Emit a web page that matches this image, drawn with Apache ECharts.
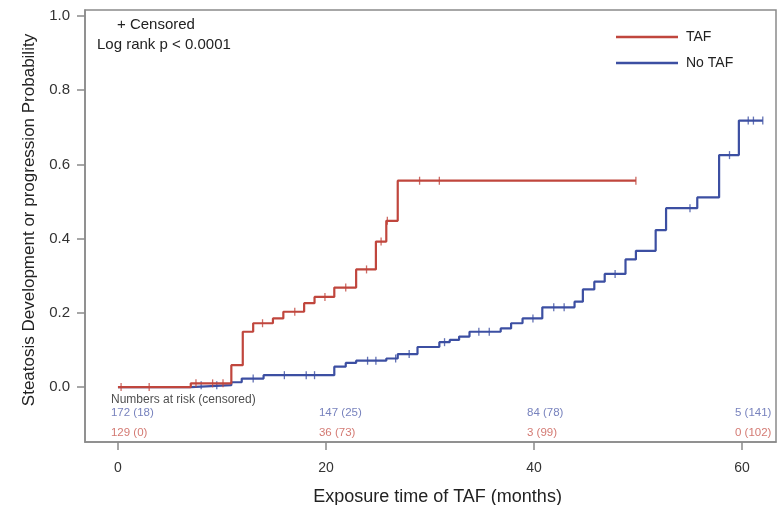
<!DOCTYPE html>
<html>
<head>
<meta charset="utf-8">
<script src="https://cdn.jsdelivr.net/npm/echarts@6/dist/echarts.min.js"></script>
<style>
  html, body { margin: 0; padding: 0; background: #fff; }
  #chart { width: 783px; height: 505px; }
</style>
</head>
<body>
<div id="chart"></div>
<script>
// step curves: time (months) where the curve jumps, and the value it takes there
var tafTimes = [0, 7, 10.9, 12, 13, 14.9, 15.9, 17.9, 18.9, 20.8, 22.9, 24.8, 25.8, 26.9, 49.8]
var tafProb = [0, 0.010, 0.059, 0.149, 0.172, 0.185, 0.203, 0.226, 0.243, 0.268, 0.317, 0.392, 0.448, 0.556, 0.556]
var tafCensored = [0.3, 3, 7.5, 9.1, 10.1, 13.9, 17, 19.9, 21.9, 23.9, 25.3, 25.9, 29, 30.9, 49.8]

var noTafTimes = [0, 7, 10.9, 11.9, 14, 20.8, 21.9, 22.9, 25.8, 26.9, 28.8, 30.9, 31.9, 32.8, 33.8, 36.8, 37.8, 38.9, 40.8, 43.9, 44.7, 45.8, 46.8, 48.8, 49.8, 51.7, 52.7, 55.7, 57.8, 59.7, 62]
var noTafProb = [0, 0.005, 0.013, 0.023, 0.032, 0.055, 0.065, 0.071, 0.077, 0.089, 0.108, 0.121, 0.127, 0.136, 0.149, 0.158, 0.172, 0.185, 0.215, 0.230, 0.263, 0.284, 0.305, 0.344, 0.367, 0.423, 0.482, 0.511, 0.625, 0.718, 0.718]
var noTafCensored = [8, 9.5, 13, 16, 18.1, 18.9, 24, 24.8, 26.7, 28, 31.4, 34.7, 35.7, 39.9, 41.9, 42.9, 47.8, 55, 58.8, 60.6, 61.1, 62]

var riskTimes = [0, 20, 40, 60]
var noTafRisk = ['172 (18)', '147 (25)', '84 (78)', '5 (141)']
var tafRisk = ['129 (0)', '36 (73)', '3 (99)', '0 (102)']

var xTicks = [0, 20, 40, 60]
var yTicks = [0, 0.2, 0.4, 0.6, 0.8, 1.0]

var red = '#c0463d'
var blue = '#3c4fa2'
var font = 'Liberation Sans, Arial, sans-serif'

function pairs(xs, ys) {
  return xs.map(function (x, i) { return [x, ys[i]] })
}

// value of a step curve at time t
function stepAt(times, probs, t) {
  var v = probs[0]
  for (var i = 0; i < times.length; i++) {
    if (times[i] <= t) v = probs[i]
  }
  return v
}

function censorPoints(cens, times, probs) {
  return cens.map(function (t) { return [t, stepAt(times, probs, t)] })
}

function riskLabels(texts, y, color) {
  return riskTimes.map(function (t, i) {
    return { value: [t, y], label: { formatter: texts[i], color: color } }
  })
}

var myChart = echarts.init(document.getElementById('chart'))

var option = {
  animation: false,
  textStyle: { fontFamily: font },
  grid: {
    left: 85,
    right: 7,
    top: 10,
    bottom: 63,
    outerBoundsMode: 'none',
    show: true,
    borderColor: '#8a8a8a',
    borderWidth: 1.5
  },
  legend: {
    orient: 'vertical',
    left: 611,
    top: 25,
    itemWidth: 62,
    itemHeight: 2.4,
    itemGap: 12,
    data: [{ name: 'TAF', icon: 'rect' }, { name: 'No TAF', icon: 'rect' }],
    textStyle: { fontSize: 14, color: '#222', padding: [0, 0, 0, 3] }
  },
  graphic: [
    { type: 'text', left: 117, top: 17, style: { text: '+ Censored', fontSize: 15, fill: '#222', fontFamily: font } },
    { type: 'text', left: 97, top: 37, style: { text: 'Log rank p < 0.0001', fontSize: 15, fill: '#222', fontFamily: font } }
  ],
  xAxis: {
    type: 'value',
    min: -3.17,
    max: 63.27,
    name: 'Exposure time of TAF (months)',
    nameLocation: 'middle',
    nameGap: 46,
    nameTextStyle: { fontSize: 18, color: '#222', padding: [0, 0, 0, 14] },
    axisLine: { show: true, onZero: false, lineStyle: { color: '#8a8a8a', width: 1.5 } },
    axisTick: { show: true, length: 8, customValues: xTicks, lineStyle: { color: '#8a8a8a', width: 1.5 } },
    axisLabel: { customValues: xTicks, fontSize: 14, color: '#333', margin: 19 },
    splitLine: { show: false }
  },
  yAxis: {
    type: 'value',
    min: -0.148,
    max: 1.016,
    name: 'Steatosis Development or progression Probability',
    nameLocation: 'middle',
    nameGap: 47,
    nameTextStyle: { fontSize: 17, color: '#222', padding: [0, 0, 0, 12] },
    axisLine: { show: true, onZero: false, lineStyle: { color: '#8a8a8a', width: 1.5 } },
    axisTick: { show: true, length: 8, customValues: yTicks, lineStyle: { color: '#8a8a8a', width: 1.5 } },
    axisLabel: {
      customValues: yTicks,
      fontSize: 15,
      color: '#333',
      margin: 15,
      formatter: function (v) { return v.toFixed(1) }
    },
    splitLine: { show: false }
  },
  series: [
    {
      name: 'No TAF',
      type: 'line',
      step: 'end',
      symbol: 'none',
      data: pairs(noTafTimes, noTafProb),
      lineStyle: { color: blue, width: 2.2 },
      itemStyle: { color: blue },
      z: 2
    },
    {
      name: 'TAF',
      type: 'line',
      step: 'end',
      symbol: 'none',
      data: pairs(tafTimes, tafProb),
      lineStyle: { color: red, width: 2.2 },
      itemStyle: { color: red },
      z: 3
    },
    {
      name: 'No TAF censored',
      type: 'scatter',
      symbol: 'rect',
      symbolSize: [1.3, 8],
      data: censorPoints(noTafCensored, noTafTimes, noTafProb),
      itemStyle: { color: blue },
      z: 2
    },
    {
      name: 'TAF censored',
      type: 'scatter',
      symbol: 'rect',
      symbolSize: [1.3, 8],
      data: censorPoints(tafCensored, tafTimes, tafProb),
      itemStyle: { color: red },
      z: 3
    },
    {
      name: 'at risk',
      type: 'scatter',
      symbolSize: 0,
      silent: true,
      data: [{ value: [0, -0.035], label: { formatter: 'Numbers at risk (censored)', color: '#222', fontSize: 12 } }]
        .concat(riskLabels(noTafRisk, -0.070, '#5563ad'))
        .concat(riskLabels(tafRisk, -0.124, '#c8574f')),
      label: {
        show: true,
        position: 'inside',
        align: 'left',
        verticalAlign: 'middle',
        offset: [-7, 0],
        fontSize: 11.5
      }
    }
  ]
}

myChart.setOption(option)
</script>
</body>
</html>
